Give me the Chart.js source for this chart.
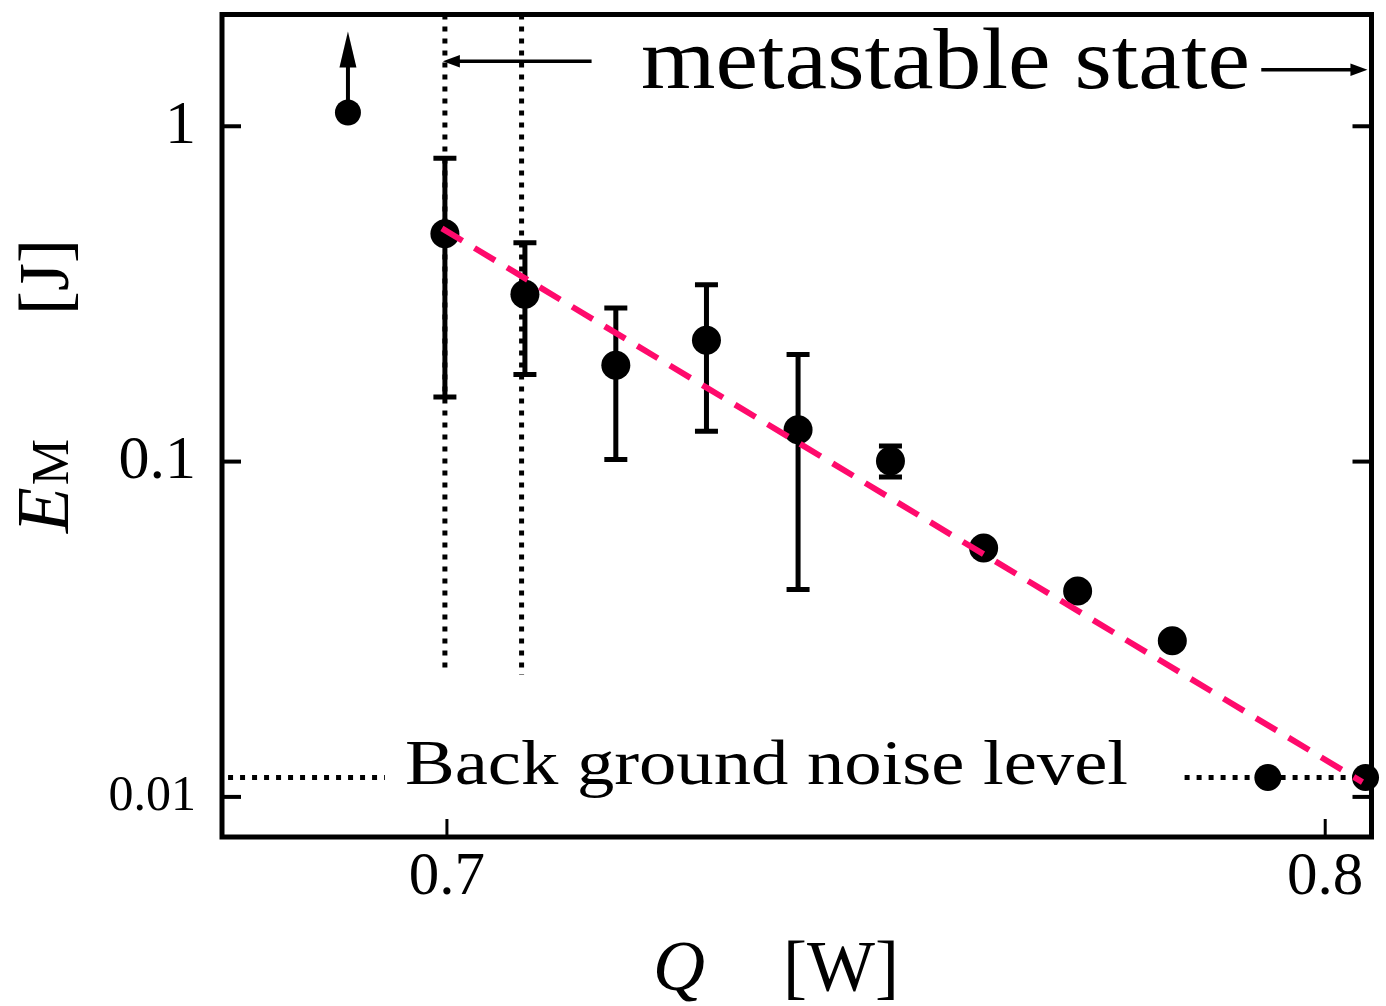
<!DOCTYPE html>
<html><head><meta charset="utf-8">
<script src="https://cdn.jsdelivr.net/npm/chart.js@4.4.1/dist/chart.umd.min.js"></script>
<style>html,body{margin:0;padding:0;background:#fff;overflow:hidden}#wrap{width:1386px;height:1006px;position:relative}</style>
</head><body><div id="wrap"><canvas id="c"></canvas></div>
<script>
// ---- data ----
const Q_W   = [0.68873, 0.69977, 0.70888, 0.71923, 0.72955, 0.73998, 0.75050, 0.76111, 0.77181, 0.78259, 0.79347, 0.80459];
const EM_J  = [1.099,   0.478,   0.3153,  0.1937,  0.2299,  0.1245,  0.1004,  0.05527, 0.04115, 0.0292,  0.01143, 0.01143];
const EM_HI = [null,    0.803,   0.4495,  0.287,   0.337,   0.2085,  0.1113,  null,    null,    null,    null,    null];
const EM_LO = [null,    0.1558,  0.1817,  0.1014,  0.1231,  0.04155, 0.0900,  null,    null,    null,    null,    null];
const ARROW_UP_TO = [1.918, null, null, null, null, null, null, null, null, null, null, null];
const FIT_Q  = [0.69943, 0.80424];
const FIT_EM = [0.496, 0.01107];
const NOISE_EM = 0.01143;
const NOISE_Q_LEFT  = [0.67508, 0.69294];
const NOISE_Q_RIGHT = [0.78399, 0.80459];
const META_LINE_Q = [0.69977, 0.7085];
const META_LINE_EM_BOTTOM = [0.0242, 0.0231];
const META_ARROW_FROM_Q = [0.71647, 0.79272];
const META_ARROW_TO_Q   = [0.69954, 0.80481];
const META_ARROW_EM     = [1.563, 1.474];
const X_TICKS = [0.7, 0.8];
const Y_TICKS = [1, 0.1, 0.01];
const X_RANGE = [0.67439, 0.80527];
const Y_RANGE = [0.007593, 2.1544];

const FONT = "'Liberation Serif', Tinos, 'Times New Roman', Times, serif";
const PINK = '#ff0a6c';

const pts = Q_W.map((q, i) => ({x: q, y: EM_J[i]}));
const dotted = {borderColor: '#000', borderWidth: 5, borderDash: [5, 7], pointRadius: 0, fill: false, showLine: true, order: 3};

const datasets = [
  {label: 'EM', data: pts, backgroundColor: '#000', borderColor: '#000', showLine: false,
   pointRadius: [13, 14.5, 14.5, 14.5, 14.5, 14.5, 14.5, 14.5, 14.5, 14.5, 13.5, 13.5], pointBorderWidth: 0, clip: false, order: 1},
  {label: 'fit', data: FIT_Q.map((q, i) => ({x: q, y: FIT_EM[i]})), borderColor: PINK, borderWidth: 6,
   borderDash: [24, 14], pointRadius: 0, showLine: true, fill: false, clip: false, order: 0},
  Object.assign({label: 'noiseL', data: NOISE_Q_LEFT.map(q => ({x: q, y: NOISE_EM}))}, dotted),
  Object.assign({label: 'noiseR', data: NOISE_Q_RIGHT.map(q => ({x: q, y: NOISE_EM}))}, dotted),
  Object.assign({label: 'meta1', data: [{x: META_LINE_Q[0], y: Y_RANGE[1]}, {x: META_LINE_Q[0], y: META_LINE_EM_BOTTOM[0]}]}, dotted),
  Object.assign({label: 'meta2', data: [{x: META_LINE_Q[1], y: Y_RANGE[1]}, {x: META_LINE_Q[1], y: META_LINE_EM_BOTTOM[1]}]}, dotted),
];

function arrowHead(ctx, x, y, dx, dy, len, half) {
  const n = Math.hypot(dx, dy); const ux = dx / n, uy = dy / n;
  ctx.beginPath();
  ctx.moveTo(x, y);
  ctx.lineTo(x - ux * len - uy * half, y - uy * len + ux * half);
  ctx.lineTo(x - ux * len + uy * half, y - uy * len - ux * half);
  ctx.closePath(); ctx.fill();
}

const decor = {
  id: 'decor',
  beforeDatasetsDraw(chart) {
    const {ctx, chartArea: a, scales: {x, y}} = chart;
    ctx.save();
    ctx.strokeStyle = '#000'; ctx.lineWidth = 5;
    ctx.strokeRect(a.left, a.top, a.right - a.left, a.bottom - a.top);
    ctx.lineWidth = 3;
    X_TICKS.forEach(v => { const px = x.getPixelForValue(v); ctx.beginPath(); ctx.moveTo(px, a.bottom); ctx.lineTo(px, a.bottom - 18); ctx.stroke(); });
    ctx.lineWidth = 4;
    Y_TICKS.forEach(v => { const py = y.getPixelForValue(v);
      ctx.beginPath(); ctx.moveTo(a.left, py); ctx.lineTo(a.left + 19, py); ctx.stroke();
      ctx.beginPath(); ctx.moveTo(a.right, py); ctx.lineTo(a.right - 19, py); ctx.stroke(); });
    ctx.lineWidth = 5; ctx.lineCap = 'butt';
    Q_W.forEach((q, i) => {
      if (EM_HI[i] == null) return;
      const px = x.getPixelForValue(q), t = y.getPixelForValue(EM_HI[i]), b = y.getPixelForValue(EM_LO[i]);
      ctx.beginPath(); ctx.moveTo(px, t); ctx.lineTo(px, b);
      ctx.moveTo(px - 11.5, t); ctx.lineTo(px + 11.5, t);
      ctx.moveTo(px - 11.5, b); ctx.lineTo(px + 11.5, b);
      ctx.stroke();
    });
    ctx.fillStyle = '#000'; ctx.lineWidth = 4;
    Q_W.forEach((q, i) => {
      if (ARROW_UP_TO[i] == null) return;
      const px = x.getPixelForValue(q), py = y.getPixelForValue(EM_J[i]), tip = y.getPixelForValue(ARROW_UP_TO[i]);
      ctx.beginPath(); ctx.moveTo(px, py); ctx.lineTo(px, tip + 30); ctx.stroke();
      arrowHead(ctx, px, tip, 0, -1, 36, 8.5);
    });
    ctx.lineWidth = 3.5;
    META_ARROW_FROM_Q.forEach((q, i) => {
      const x0 = x.getPixelForValue(q), x1 = x.getPixelForValue(META_ARROW_TO_Q[i]), py = y.getPixelForValue(META_ARROW_EM[i]);
      const dir = Math.sign(x1 - x0);
      ctx.beginPath(); ctx.moveTo(x0, py); ctx.lineTo(x1 - dir * 10, py); ctx.stroke();
      arrowHead(ctx, x1, py, dir, 0, 17, 6.3);
    });
    ctx.restore();
  },
  afterDraw(chart) {
    const {ctx} = chart;
    ctx.save();
    ctx.fillStyle = '#000'; ctx.textBaseline = 'alphabetic'; ctx.textAlign = 'left';
    function stretched(text, font, left, base, width) {
      ctx.font = font;
      const w = ctx.measureText(text).width;
      ctx.save(); ctx.translate(left, base); ctx.scale(width / w, 1); ctx.fillText(text, 0, 0); ctx.restore();
    }
    stretched('metastable state', '86px ' + FONT, 641, 88, 609);
    stretched('Back ground noise level', '64px ' + FONT, 405, 784, 723);
    ctx.font = 'italic 72px ' + FONT; ctx.fillText('Q', 653, 990);
    ctx.font = '72px ' + FONT; ctx.fillText('[W]', 783, 990);
    ctx.save(); ctx.translate(68, 533); ctx.rotate(-Math.PI / 2);
    ctx.font = 'italic 75px ' + FONT; ctx.fillText('E', 0, 0);
    const ew = ctx.measureText('E').width;
    ctx.font = '52px ' + FONT; ctx.fillText('M', ew + 2, 0);
    ctx.font = '72px ' + FONT; ctx.fillText('[J]', 218, 0);
    ctx.restore();
    ctx.restore();
  }
};

function build() {
  new Chart(document.getElementById('c'), {
    type: 'scatter',
    data: {datasets},
    options: {
      responsive: true, maintainAspectRatio: false, animation: false,
      layout: {padding: {top: 14, right: 14, left: 0, bottom: 0}},
      plugins: {legend: {display: false}, tooltip: {enabled: false}},
      scales: {
        x: {type: 'linear', min: X_RANGE[0], max: X_RANGE[1],
            grid: {display: false, drawTicks: false, tickLength: 0}, border: {display: false},
            afterBuildTicks: s => { s.ticks = X_TICKS.map(v => ({value: v})); },
            afterFit: s => { s.height = 169; s.paddingLeft = 0; s.paddingRight = 0; },
            ticks: {autoSkip: false, maxRotation: 0, padding: 4, color: '#000', font: {family: FONT, size: 61},
                    callback: v => String(v)}},
        y: {type: 'logarithmic', min: Y_RANGE[0], max: Y_RANGE[1],
            grid: {display: false, drawTicks: false, tickLength: 0}, border: {display: false},
            afterBuildTicks: s => { s.ticks = Y_TICKS.map(v => ({value: v})); },
            afterFit: s => { s.width = 222; s.paddingTop = 0; s.paddingBottom = 0; },
            ticks: {autoSkip: false, padding: 26, color: '#000',
                    font: c => ({family: FONT, size: (c.tick && c.tick.value === 0.01) ? 50 : 62}),
                    callback: v => String(v)}}
      }
    },
    plugins: [decor]
  });
}
const fl = ['60px "Liberation Serif"', 'italic 60px "Liberation Serif"'].map(f => document.fonts.load(f).catch(() => null));
Promise.all(fl).then(build, build);
</script></body></html>
